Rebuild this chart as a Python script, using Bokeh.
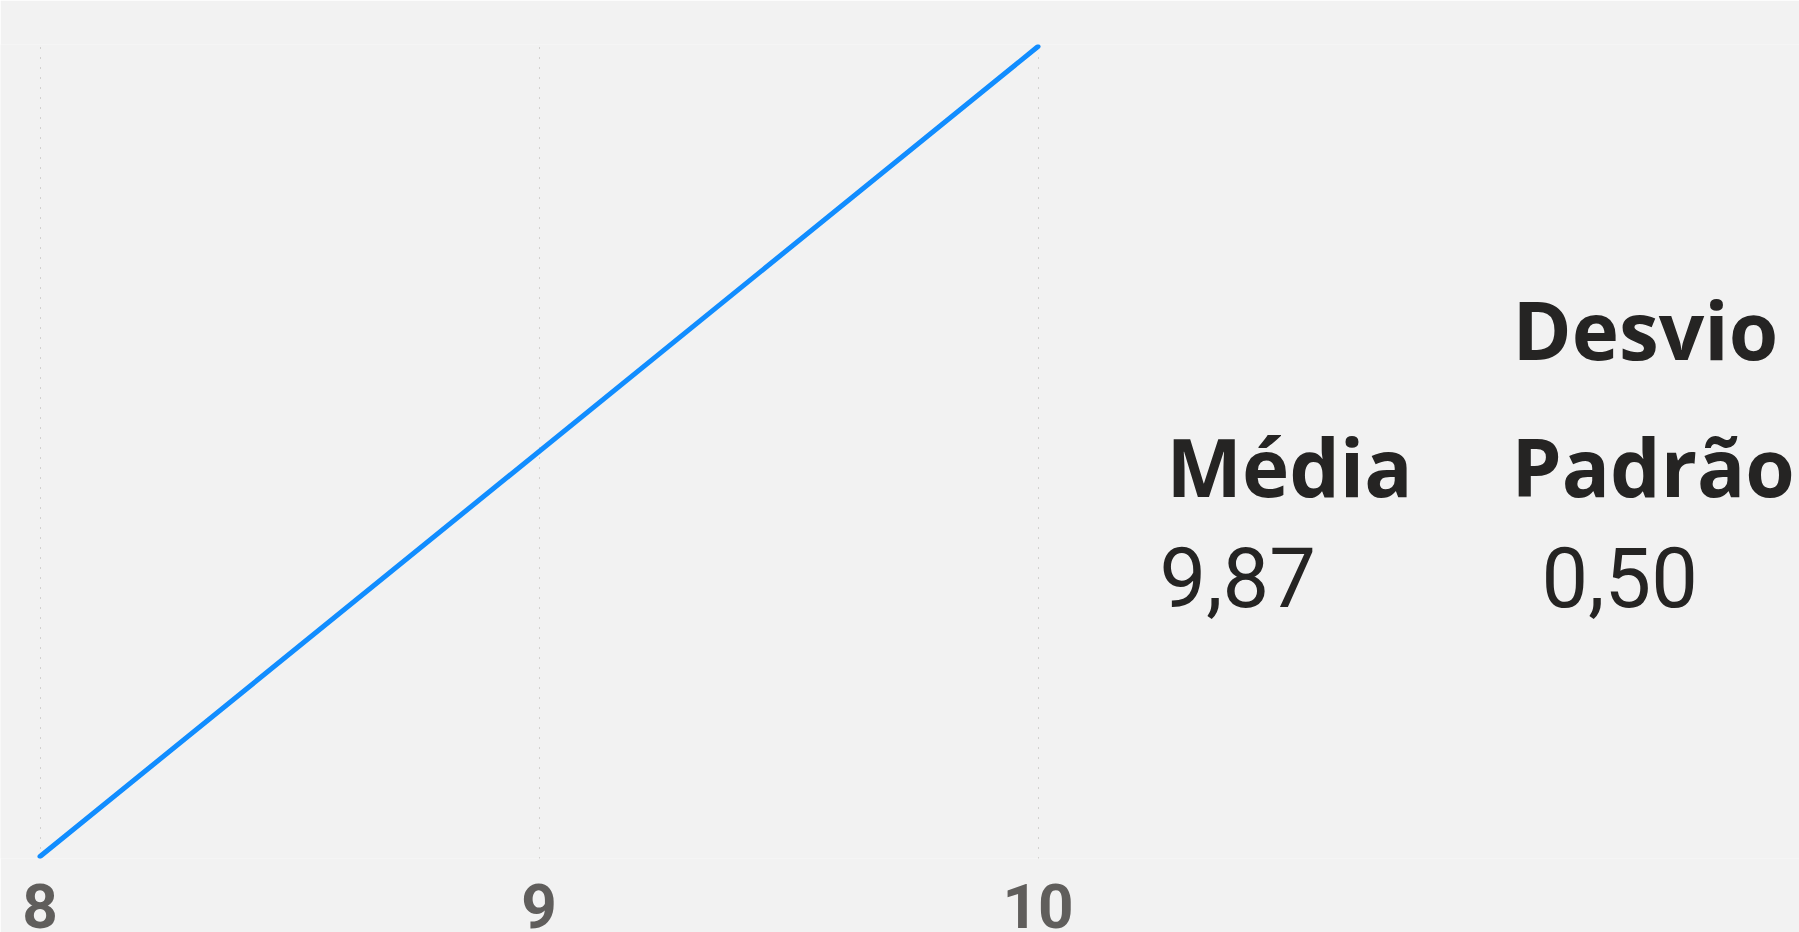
from bokeh.plotting import figure
from bokeh.models import Range1d, FixedTicker, ColumnDataSource
from bokeh.core.properties import value
from bokeh.embed import file_html
from bokeh.resources import INLINE

# ---- data ----
x_values = [8, 10]
y_values = [0.0, 1.0]
tick_values = [8, 9, 10]
header_texts = ["Média", "Desvio", "Padrão"]
stat_texts = ["9,87", "0,50"]

# ---- layout (pixels) ----
W, H = 1799, 932
px_per_x = 499.0
x0 = 8 - 39.5 / px_per_x
x1 = x0 + W / px_per_x
y_span = 810.0
y0 = -2 / y_span
y1 = 1 + 2 / y_span
top_border = 44
frame_h = 814

def dx(px):
    return x0 + px / px_per_x

def dy(py):
    return (856 - py) / y_span

BG = "#F2F2F2"
p = figure(width=W, height=H, output_backend="svg", toolbar_location=None,
           x_range=Range1d(x0, x1), y_range=Range1d(y0, y1),
           min_border_left=0, min_border_right=0,
           min_border_top=top_border, min_border_bottom=H - top_border - frame_h,
           background_fill_color=BG, border_fill_color=BG, outline_line_color=None)
p.yaxis.visible = False
p.ygrid.visible = False

ax = p.xaxis[0]
ax.ticker = FixedTicker(ticks=tick_values)
ax.axis_line_color = None
ax.major_tick_line_color = None
ax.minor_tick_line_color = None
ax.major_label_text_font = "Roboto"
ax.major_label_text_font_style = "bold"
ax.major_label_text_font_size = "62px"
ax.major_label_text_color = "#605E5C"
ax.major_label_standoff = 19

g = p.xgrid[0]
g.ticker = FixedTicker(ticks=tick_values)
g.grid_line_color = "#B3B0AD"
g.grid_line_width = 1
g.grid_line_dash = "1 9"

p.line(x=x_values, y=y_values, line_color="#118DFF", line_width=5, line_cap="round")

HS = 80
VS = 83
h_off = 0.39 * HS
v_off = 0.36 * VS

hsrc = ColumnDataSource(dict(
    x=[dx(1166), dx(1512), dx(1511)],
    y=[dy(496.5 - h_off), dy(359 - h_off), dy(496.5 - h_off)],
    t=header_texts))
p.text(x="x", y="y", text="t", source=hsrc, text_font=value("Open Sans"),
       text_font_style="bold", text_font_size=f"{HS}px", text_color="#252423",
       text_align="left", text_baseline="alphabetic")

ssrc = ColumnDataSource(dict(
    x=[dx(1159), dx(1541)],
    y=[dy(606 - v_off), dy(606 - v_off)],
    t=stat_texts))
p.text(x="x", y="y", text="t", source=ssrc, text_font=value("Roboto"),
       text_font_size=f"{VS}px", text_color="#252423",
       text_align="left", text_baseline="alphabetic")

open("out.html", "w").write(file_html(p, INLINE))
